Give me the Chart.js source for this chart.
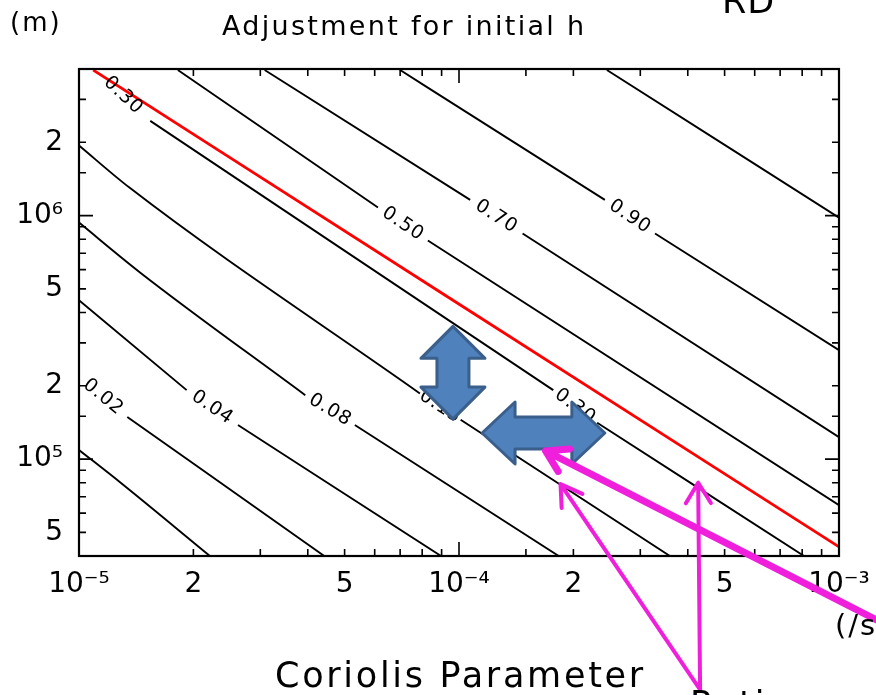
<!DOCTYPE html>
<html><head><meta charset="utf-8">
<script src="https://cdn.jsdelivr.net/npm/chart.js@4.4.1/dist/chart.umd.min.js"></script>
<style>
html,body{margin:0;padding:0;background:#fff;overflow:hidden;}
#wrap{position:relative;width:876px;height:695px;overflow:hidden;}
#wrap canvas{position:absolute;left:0;top:0;}
.t{position:absolute;font-family:"DejaVu Sans",sans-serif;color:#000;line-height:1;white-space:nowrap;}
</style></head><body>
<div id="wrap">
<canvas id="c" width="876" height="695"></canvas>
<div class="t" style="left:10px;top:9px;font-size:26px;letter-spacing:2px">(m)</div>
<div class="t" style="left:222px;top:12px;font-size:27px;letter-spacing:2.3px">Adjustment for initial h</div>
<div class="t" style="left:722px;top:-16px;font-size:35px;letter-spacing:1px">RD</div>
<div class="t" style="left:835px;top:611px;font-size:29px;letter-spacing:2px">(/s)</div>
<div class="t" style="left:275px;top:658px;font-size:35px;letter-spacing:2.7px">Coriolis Parameter</div>
<div class="t" style="left:690px;top:687px;font-size:35px;letter-spacing:2px">Ratio</div>
</div>
<script>
// ---- axis ranges and tick labels ----
const xMin = 1e-5, xMax = 1e-3;
const yMin = 4e4, yMax = 4e6;
const xTickValues = [1e-5, 2e-5, 5e-5, 1e-4, 2e-4, 5e-4, 1e-3];
const xTickLabels = ['10\u207B\u2075', '2', '5', '10\u207B\u2074', '2', '5', '10\u207B\u00B3'];
const yTickValues = [5e4, 1e5, 2e5, 5e5, 1e6, 2e6];
const yTickLabels = ['5', '10\u2075', '2', '5', '10\u2076', '2'];

// ---- contour lines (Coriolis parameter x, length scale y); null = label gap ----
const c001X = [1.0e-5, 1.28e-5, 2.21e-5];
const c001Y = [1.09e5, 8.05e4, 4.0e4];
const c002X = [1.0e-5, null, 1.34e-5, 4.42e-5];
const c002Y = [2.17e5, null, 1.49e5, 4.0e4];
const c004X = [1.0e-5, 1.92e-5, null, 2.62e-5, 8.97e-5];
const c004Y = [4.49e5, 1.92e5, null, 1.38e5, 4.0e4];
const c008X = [1.0e-5, 1.45e-5, 3.94e-5, null, 5.32e-5, 1.83e-4];
const c008Y = [9.36e5, 5.83e5, 1.83e5, null, 1.38e5, 4.0e4];
const c015X = [1.0e-5, 1.36e-5, 7.89e-5, null, 1.01e-4, 3.59e-4];
const c015Y = [1.94e6, 1.30e6, 1.86e5, null, 1.45e5, 4.0e4];
const c030X = [1.11e-5, null, 1.54e-5, 1.77e-4, null, 2.31e-4, 8.09e-4];
const c030Y = [3.96e6, null, 2.45e6, 1.92e5, null, 1.41e5, 4.0e4];
const redX = [1.09e-5, 9.64e-5, 1.0e-3];
const redY = [3.96e6, 4.49e5, 4.36e4];
const c050X = [1.82e-5, 6.12e-5, null, 8.28e-5, 1.0e-3];
const c050Y = [3.96e6, 1.08e6, null, 7.90e5, 6.47e4];
const c070X = [3.08e-5, 1.07e-4, null, 1.47e-4, 1.0e-3];
const c070Y = [3.96e6, 1.16e6, null, 8.44e5, 1.23e5];
const c090X = [7.0e-5, 2.42e-4, null, 3.28e-4, 1.0e-3];
const c090Y = [3.96e6, 1.16e6, null, 8.44e5, 2.80e5];
const cTopX = [2.45e-4, 1.0e-3];
const cTopY = [3.96e6, 9.81e5];
const contourLabels = ['', '0.02', '0.04', '0.08', '0.15', '0.30', '', '0.50', '0.70', '0.90', ''];

// ---- annotation overlays (in data coordinates) ----
const vArrow = {x: 9.64e-5, yTop: 3.51e5, yBottom: 1.46e5};
const hArrow = {xLeft: 1.15e-4, xRight: 2.42e-4, y: 1.28e5};
const pinkArrows = [
  {tipX: 1.69e-4, tipY: 1.08e5, tailX: 1.45e-3, tailY: 1.95e4, w: 7},
  {tipX: 1.85e-4, tipY: 7.9e4, tailX: 4.31e-4, tailY: 1.13e4, w: 4},
  {tipX: 4.26e-4, tipY: 8.0e4, tailX: 4.31e-4, tailY: 1.13e4, w: 4}
];

const lines = [
  [c001X, c001Y], [c002X, c002Y], [c004X, c004Y], [c008X, c008Y], [c015X, c015Y],
  [c030X, c030Y], [redX, redY], [c050X, c050Y], [c070X, c070Y], [c090X, c090Y], [cTopX, cTopY]
];
const datasets = lines.map((l, i) => ({
  data: l[0].map((x, j) => ({x: x, y: l[1][j]})),
  showLine: true,
  borderColor: i === 6 ? '#ff0000' : '#000000',
  borderWidth: i === 6 ? 2.8 : 1.9,
  pointRadius: 0,
  spanGaps: false,
  cubicInterpolationMode: 'monotone'
}));

function near(a, b) { return Math.abs(Math.log10(a) - Math.log10(b)) < 1e-6; }
function isDecade(v) { const l = Math.log10(v); return Math.abs(l - Math.round(l)) < 1e-6; }

const FONT = '"DejaVu Sans", sans-serif';

const contourLabelPlugin = {
  id: 'contourLabels',
  afterDatasetsDraw(chart) {
    const ctx = chart.ctx;
    chart.data.datasets.forEach((ds, di) => {
      const txt = contourLabels[di];
      if (!txt) return;
      const pts = chart.getDatasetMeta(di).data;
      for (let k = 1; k < pts.length - 1; k++) {
        if (ds.data[k].x === null) {
          const a = pts[k - 1], b = pts[k + 1];
          const cx = (a.x + b.x) / 2, cy = (a.y + b.y) / 2;
          const ang = Math.atan2(b.y - a.y, b.x - a.x);
          ctx.save();
          ctx.translate(cx, cy);
          ctx.rotate(ang);
          ctx.font = '19px ' + FONT;
          ctx.letterSpacing = '1px';
          ctx.fillStyle = '#000';
          ctx.textAlign = 'center';
          ctx.textBaseline = 'middle';
          ctx.fillText(txt, 0, 0);
          ctx.restore();
        }
      }
    });
    // inward ticks and frame
    const {left, right, top, bottom} = chart.chartArea;
    const xs = chart.scales.x, ys = chart.scales.y;
    ctx.save();
    ctx.strokeStyle = '#000';
    ctx.lineWidth = 1.6;
    ctx.beginPath();
    xs.ticks.forEach(t => {
      const px = xs.getPixelForValue(t.value);
      const len = isDecade(t.value) ? 14 : 7;
      ctx.moveTo(px, bottom); ctx.lineTo(px, bottom - len);
      ctx.moveTo(px, top); ctx.lineTo(px, top + len);
    });
    ys.ticks.forEach(t => {
      const py = ys.getPixelForValue(t.value);
      const len = isDecade(t.value) ? 14 : 7;
      ctx.moveTo(left, py); ctx.lineTo(left + len, py);
      ctx.moveTo(right, py); ctx.lineTo(right - len, py);
    });
    ctx.stroke();
    ctx.lineWidth = 2.2;
    ctx.strokeRect(left, top, right - left, bottom - top);
    ctx.restore();
  }
};

const overlayPlugin = {
  id: 'overlay',
  afterDraw(chart) {
    const ctx = chart.ctx;
    const xs = chart.scales.x, ys = chart.scales.y;
    ctx.save();
    ctx.fillStyle = '#4f81bd';
    ctx.strokeStyle = '#3a5f8b';
    ctx.lineWidth = 3;
    ctx.lineJoin = 'round';
    // vertical double arrow
    let cx = xs.getPixelForValue(vArrow.x);
    let ty = ys.getPixelForValue(vArrow.yTop), by = ys.getPixelForValue(vArrow.yBottom);
    let hh = 32, sh = 16, hl = 32;
    ctx.beginPath();
    ctx.moveTo(cx, ty);
    ctx.lineTo(cx + hh, ty + hl); ctx.lineTo(cx + sh, ty + hl);
    ctx.lineTo(cx + sh, by - hl); ctx.lineTo(cx + hh, by - hl);
    ctx.lineTo(cx, by);
    ctx.lineTo(cx - hh, by - hl); ctx.lineTo(cx - sh, by - hl);
    ctx.lineTo(cx - sh, ty + hl); ctx.lineTo(cx - hh, ty + hl);
    ctx.closePath(); ctx.fill(); ctx.stroke();
    // horizontal double arrow
    const lx = xs.getPixelForValue(hArrow.xLeft), rx = xs.getPixelForValue(hArrow.xRight);
    const cy = ys.getPixelForValue(hArrow.y);
    hh = 31; sh = 16; hl = 33;
    ctx.beginPath();
    ctx.moveTo(lx, cy);
    ctx.lineTo(lx + hl, cy - hh); ctx.lineTo(lx + hl, cy - sh);
    ctx.lineTo(rx - hl, cy - sh); ctx.lineTo(rx - hl, cy - hh);
    ctx.lineTo(rx, cy);
    ctx.lineTo(rx - hl, cy + hh); ctx.lineTo(rx - hl, cy + sh);
    ctx.lineTo(lx + hl, cy + sh); ctx.lineTo(lx + hl, cy + hh);
    ctx.closePath(); ctx.fill(); ctx.stroke();
    // magenta arrows
    ctx.strokeStyle = '#f01fdc';
    ctx.lineCap = 'round';
    pinkArrows.forEach(a => {
      const tx = xs.getPixelForValue(a.tipX), tyy = ys.getPixelForValue(a.tipY);
      const sx = xs.getPixelForValue(a.tailX), syy = ys.getPixelForValue(a.tailY);
      const ang = Math.atan2(syy - tyy, sx - tx);
      const bl = 24, spread = 0.55;
      ctx.lineWidth = a.w;
      ctx.beginPath();
      ctx.moveTo(sx, syy); ctx.lineTo(tx, tyy);
      ctx.moveTo(tx + bl * Math.cos(ang - spread), tyy + bl * Math.sin(ang - spread));
      ctx.lineTo(tx, tyy);
      ctx.lineTo(tx + bl * Math.cos(ang + spread), tyy + bl * Math.sin(ang + spread));
      ctx.stroke();
    });
    ctx.restore();
  }
};

new Chart(document.getElementById('c'), {
  type: 'scatter',
  data: {datasets: datasets},
  options: {
    responsive: false,
    animation: false,
    events: [],
    layout: {padding: {left: 0, top: 69, right: 37, bottom: 0}},
    plugins: {legend: {display: false}, tooltip: {enabled: false}, title: {display: false}},
    scales: {
      x: {
        type: 'logarithmic', min: xMin, max: xMax,
        grid: {display: false, drawTicks: false}, border: {display: false},
        afterFit(s) { s.height = 139; s.paddingLeft = 0; s.paddingRight = 0; },
        ticks: {
          autoSkip: false, maxRotation: 0, minRotation: 0, padding: 12, color: '#000',
          font: {family: 'DejaVu Sans', size: 28},
          callback(v) { const i = xTickValues.findIndex(t => near(t, v)); return i >= 0 ? xTickLabels[i] : ''; }
        }
      },
      y: {
        type: 'logarithmic', min: yMin, max: yMax,
        grid: {display: false, drawTicks: false}, border: {display: false},
        afterFit(s) { s.width = 79; s.paddingTop = 0; s.paddingBottom = 0; },
        ticks: {
          autoSkip: false, padding: 16, color: '#000',
          font: {family: 'DejaVu Sans', size: 28},
          callback(v) { const i = yTickValues.findIndex(t => near(t, v)); return i >= 0 ? yTickLabels[i] : ''; }
        }
      }
    }
  },
  plugins: [contourLabelPlugin, overlayPlugin]
});
</script>
</body></html>
